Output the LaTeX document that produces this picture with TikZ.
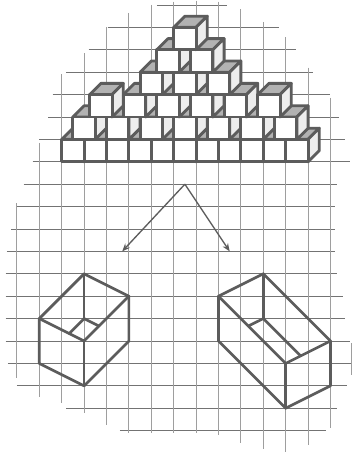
\documentclass[tikz,border=0pt]{standalone}
\usetikzlibrary{arrows.meta}

% one cube: column of the front left edge, grid row of the front top edge
\newcommand{\cubeat}[2]{
  \coordinate (F) at (#1, -#2);
  \filldraw[cubeline, fill=topgray] (F) -- ++(0.5, 0.5) -- ++(1, 0) -- ++(-0.5, -0.5) -- cycle;
  \filldraw[cubeline, fill=sidegray] (F) ++(1, 0) -- ++(0.5, 0.5) -- ++(0, -1) -- ++(-0.5, -0.5) -- cycle;
  \filldraw[cubeline, fill=white] (F) rectangle ++(1, -1);
}

\definecolor{linegray}{gray}{0.36}
\definecolor{gridgray}{gray}{0.45}
\definecolor{gridlight}{gray}{0.62}
\definecolor{topgray}{gray}{0.7}
\definecolor{sidegray}{gray}{0.93}

\begin{document}
\begin{tikzpicture}[
  cubeline/.style={draw=linegray, line width=3.6pt, line join=round},
  gridrow/.style={draw=gridgray, line width=0.9pt},
  gridcol/.style={draw=gridlight, line width=1.1pt},
  boxline/.style={draw=linegray, line width=3.4pt, line cap=round, line join=round},
  pointer/.style={draw=linegray, line width=1.7pt, -{Stealth[length=10pt, width=8pt]}}
]
  \useasboundingbox (-2.754, 0.223) rectangle (12.96, -20);
  \fill[white] (-2.754, 0.223) rectangle (12.96, -20);

  % grid: row, from, to
  \foreach \r/\a/\b in {0/4.25/7.4, 1/2.05/9.7, 2/1.2/10.45, 3/0.2/11.2, 4/-0.4/12,
    5/-0.6/12.4, 6/-1/12.65, 7/-1.3/12.85, 8/-1.7/12.3, 9/-2/12.2, 10/-2.25/12.2,
    11/-2.45/12.2, 12/-2.5/12.3, 13/-2.5/12.55, 14/-2.5/12.65, 15/-2.5/12.85,
    16/-2.4/12.95, 17/-2/12.75, 18/0.2/12.3, 19/2.6/11.8}
    \draw[gridrow] (\a, -\r) -- (\b, -\r);
  % grid: column, from, to
  \foreach \c/\a/\b in {-2/8.85/16.65, -1/6.15/17.5, 0/3.1/17.75, 1/2.15/18.2, 2/1/18.75,
    3/0.35/19.1, 4/0/19.1, 5/-0.15/19.1, 6/-0.2/19.1, 7/-0.15/19.2, 8/0.2/19.55,
    9/0.75/19.8, 10/1.45/19.95, 11/2.8/19.65, 12/4.15/18.9, 12.95/15.1/16.5}
    \draw[gridcol] (\c, -\a) -- (\c, -\b);

  % stack, lowest layer first
  \foreach \c in {0, ..., 10} {\cubeat{\c}{6}}
  \foreach \c in {0.5, 2, 3.5, 5, 6.5, 8, 9.5} {\cubeat{\c}{5}}
  \foreach \c in {1.25, 2.75, 4.25, 5.75, 7.25, 8.75} {\cubeat{\c}{4}}
  \foreach \c in {3.5, 5, 6.5} {\cubeat{\c}{3}}
  \foreach \c in {4.25, 5.75} {\cubeat{\c}{2}}
  \cubeat{5}{1}

  % arrows
  \coordinate (T) at (5.5, -8);
  \coordinate (L) at (2.7, -11);
  \coordinate (R) at (7.5, -11);
  \draw[pointer] (T) -- (L);
  \draw[pointer] (T) -- (R);

  % left box
  \coordinate (A) at (1, -12);
  \coordinate (B) at (3, -13);
  \coordinate (C) at (1, -15);
  \coordinate (D) at (-1, -14);
  \coordinate (E) at (3, -15);
  \coordinate (F) at (1, -17);
  \coordinate (G) at (-1, -16);
  \coordinate (H) at (1, -14);
  \draw[boxline] (A) -- (B) -- (C) -- (D) -- cycle;
  \draw[boxline] (B) -- (E) -- (F) -- (G) -- (D);
  \draw[boxline] (C) -- (F);
  \draw[boxline] (A) -- (H);
  \draw[boxline] (H) -- (0.333, -14.667);
  \draw[boxline] (H) -- (1.667, -14.333);

  % right box
  \coordinate (P) at (9, -12);
  \coordinate (Q) at (7, -13);
  \coordinate (S) at (10, -16);
  \coordinate (U) at (12, -15);
  \coordinate (V) at (7, -15);
  \coordinate (W) at (10, -18);
  \coordinate (X) at (12, -17);
  \coordinate (Y) at (9, -14);
  \draw[boxline] (P) -- (Q) -- (S) -- (U) -- cycle;
  \draw[boxline] (Q) -- (V) -- (W) -- (X) -- (U);
  \draw[boxline] (S) -- (W);
  \draw[boxline] (P) -- (Y);
  \draw[boxline] (Y) -- (8.333, -14.333);
  \draw[boxline] (Y) -- (10.667, -15.667);
\end{tikzpicture}
\end{document}
